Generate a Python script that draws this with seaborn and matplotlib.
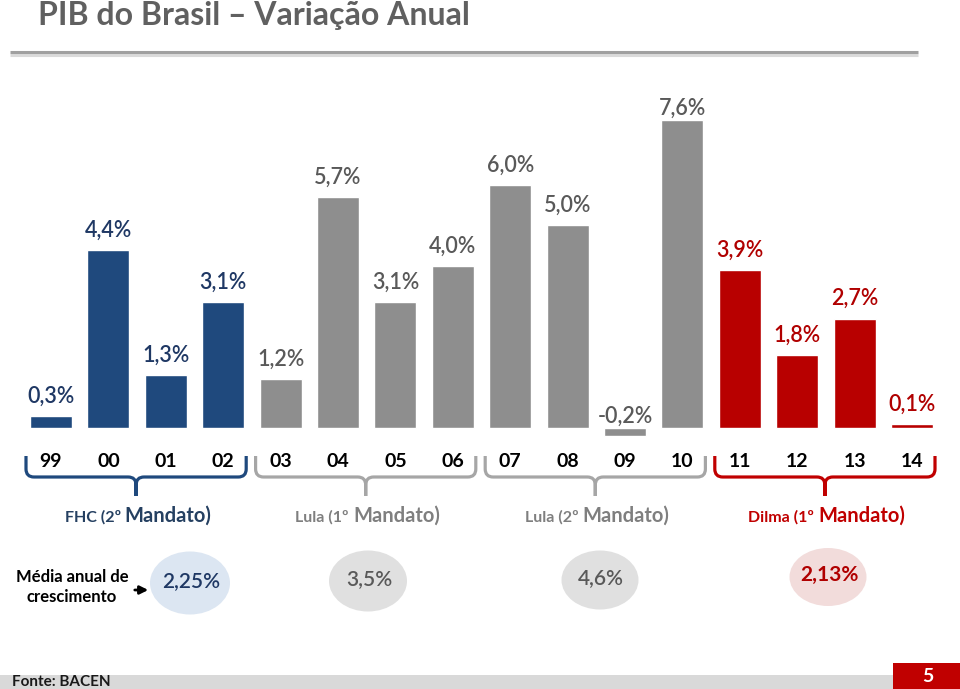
import matplotlib
matplotlib.use("Agg")
import matplotlib.pyplot as plt
from matplotlib.path import Path
from matplotlib.patches import PathPatch, Ellipse, Rectangle
from matplotlib.offsetbox import TextArea, HPacker, AnnotationBbox
import seaborn as sns
import pandas as pd

# ---------------- data ----------------
years = ["99", "00", "01", "02", "03", "04", "05", "06",
         "07", "08", "09", "10", "11", "12", "13", "14"]
pib = [0.3, 4.4, 1.3, 3.1, 1.2, 5.7, 3.1, 4.0,
       6.0, 5.0, -0.2, 7.6, 3.9, 1.8, 2.7, 0.1]
mandates = ["FHC (2º Mandato)", "Lula (1º Mandato)", "Lula (2º Mandato)", "Dilma (1º Mandato)"]
mandate_small = ["FHC (2º", "Lula (1º", "Lula (2º", "Dilma (1º"]
mandate_big = ["Mandato)", "Mandato)", "Mandato)", "Mandato)"]
mandate_means = ["2,25%", "3,5%", "4,6%", "2,13%"]
years_per_mandate = 4

title = "PIB do Brasil – Variação Anual"
mean_caption = "Média anual de\ncrescimento"
source = "Fonte: BACEN"
page = "5"

# ---------------- styles ----------------
bar_colors = ["#1F497D", "#8E8E8E", "#8E8E8E", "#B80000"]
label_colors = ["#1F3864", "#595959", "#595959", "#B00000"]
brace_colors = ["#1F497D", "#A6A6A6", "#A6A6A6", "#C00000"]
group_text_colors = ["#254061", "#7F7F7F", "#7F7F7F", "#C00000"]
ellipse_colors = ["#DCE6F2", "#E0E0E0", "#E0E0E0", "#F2DCDB"]
mean_text_colors = ["#1F3864", "#595959", "#595959", "#B00000"]
mean_weights = ["semibold", "semibold", "semibold", "bold"]

sns.set_theme(style="white")
plt.rcParams["font.family"] = ["Lato", "DejaVu Sans"]

W, H = 960, 689
fig = plt.figure(figsize=(W / 100, H / 100), dpi=100)
fig.patch.set_facecolor("white")

# overlay axes in pixel coordinates for decorations
ov = fig.add_axes([0, 0, 1, 1], zorder=0)
ov.set_xlim(0, W)
ov.set_ylim(H, 0)
ov.axis("off")

# main bar axes
top_px, bot_px = 60, 440
ax = fig.add_axes([0, 1 - bot_px / H, 1, (bot_px - top_px) / H], zorder=1)
ax.patch.set_alpha(0)

mandate_idx = [i // years_per_mandate for i in range(len(years))]
df = pd.DataFrame({"ano": years, "pib": pib,
                   "mandato": [mandates[m] for m in mandate_idx]})
palette = {y: bar_colors[m] for y, m in zip(years, mandate_idx)}
sns.barplot(data=df, x="ano", y="pib", hue="ano", palette=palette,
            legend=False, width=0.73, saturation=1, ax=ax)

spacing = 57.4
first_center = 51
ax.set_xlim(-first_center / spacing, (W - first_center) / spacing)
base_px = 428
ppu = 40.5
ax.set_ylim(-(bot_px - base_px) / ppu, (base_px - top_px) / ppu)
sns.despine(ax=ax, left=True, bottom=True, top=True, right=True)
ax.set_yticks([])
ax.set_xlabel("")
ax.set_ylabel("")
ax.tick_params(axis="x", length=0, pad=9.5, labelsize=14, labelcolor="black")
for lab in ax.get_xticklabels():
    lab.set_fontweight("bold")

# value labels
vmax = max(pib)
for i, v in enumerate(pib):
    txt = f"{v:.1f}".replace(".", ",") + "%"
    anchor = max(v, 0)
    off = 8.6 if (v == vmax or v < 0) else 14.4
    ax.annotate(txt, (i, anchor), xytext=(0, off), textcoords="offset points",
                ha="center", va="center", fontsize=15.5, fontweight="semibold",
                color=label_colors[mandate_idx[i]])

# helper: data x -> pixel x
fig.canvas.draw()
def px(xd):
    disp = ax.transData.transform((xd, 0))
    return disp[0] * W / fig.bbox.width

# braces
def brace(x0, x1, ytop, ymid, ytip, color, r=8):
    xc = (x0 + x1) / 2
    verts = [(x0, ytop), (x0, ymid - r), (x0, ymid), (x0 + r, ymid),
             (xc - r, ymid), (xc, ymid), (xc, ymid + r), (xc, ytip),
             (x1, ytop), (x1, ymid - r), (x1, ymid), (x1 - r, ymid),
             (xc + r, ymid), (xc, ymid), (xc, ymid + r), (xc, ytip)]
    codes = [Path.MOVETO, Path.LINETO, Path.CURVE3, Path.CURVE3,
             Path.LINETO, Path.CURVE3, Path.CURVE3, Path.LINETO] * 2
    ov.add_patch(PathPatch(Path(verts, codes), fill=False, edgecolor=color,
                           lw=2.3, capstyle="butt", joinstyle="round"))
    return xc

for g in range(len(mandates)):
    i0 = g * years_per_mandate
    i1 = i0 + years_per_mandate - 1
    x0 = px(i0) - 25
    x1 = px(i1) + 23
    xc = brace(x0, x1, 456, 477, 496, brace_colors[g])
    c = group_text_colors[g]
    small = TextArea(mandate_small[g], textprops=dict(fontsize=11.5, fontweight="bold", color=c))
    big = TextArea(mandate_big[g], textprops=dict(fontsize=14.5, fontweight="bold", color=c))
    pack = HPacker(children=[small, big], align="baseline", pad=0, sep=3)
    ab = AnnotationBbox(pack, (xc + 2, 516), xycoords="data", frameon=False,
                        box_alignment=(0.5, 0.5), pad=0)
    ov.add_artist(ab)

# title and underline
ov.text(38, 15, title, fontsize=23, fontweight="bold", color="#606060",
        ha="left", va="center")
ov.plot([10, 918], [54.5, 54.5], color="#DADADA", lw=2.2, solid_capstyle="butt")
ov.plot([10, 918], [52, 52], color="#A0A0A0", lw=2.2, solid_capstyle="butt")

# means
ov.text(72, 587, mean_caption, fontsize=12, fontweight="bold", color="black",
        ha="center", va="center", linespacing=1.25, multialignment="center")
ov.annotate("", xy=(151, 590), xytext=(132, 590),
            arrowprops=dict(arrowstyle="-|>", lw=2, color="black", mutation_scale=12))
ell_pos = [(190, 583, 80, 63), (368, 581, 78, 61), (600, 580, 77, 59), (828, 577, 77, 58)]
for g, (cx, cy, ew, eh) in enumerate(ell_pos):
    ov.add_patch(Ellipse((cx, cy), ew, eh, facecolor=ellipse_colors[g], edgecolor="none"))
    ov.text(cx + 1, cy - 2, mandate_means[g], fontsize=15, fontweight=mean_weights[g],
            color=mean_text_colors[g], ha="center", va="center")

# footer
ov.add_patch(Rectangle((0, 675), 893, 14, facecolor="#D9D9D9", edgecolor="none"))
ov.text(12, 682, source, fontsize=11, fontweight="bold", color="#1a1a1a",
        ha="left", va="center")
ov.add_patch(Rectangle((893, 663), 67, 26, facecolor="#C00000", edgecolor="none"))
ov.text(928, 677, page, fontsize=14, fontweight="bold", color="white",
        ha="center", va="center")

fig.savefig("out.png", dpi=100)
